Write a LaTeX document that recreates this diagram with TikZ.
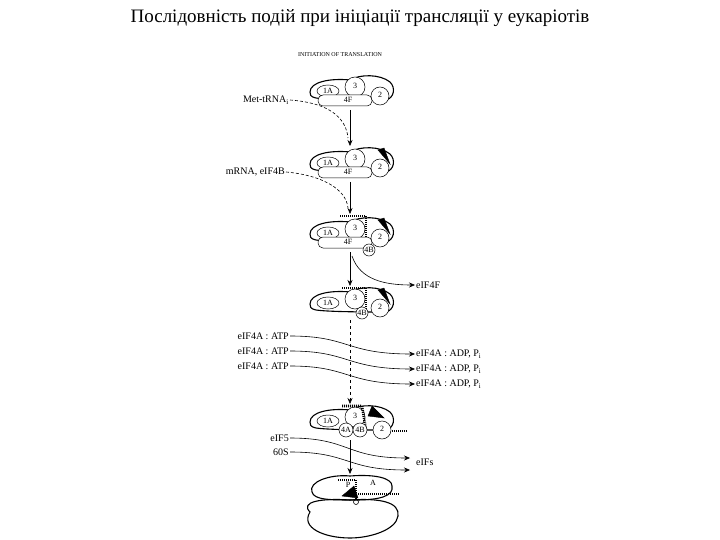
\documentclass[tikz,border=0pt]{standalone}
\usepackage{fontspec}
\setmainfont{Liberation Serif}
\usetikzlibrary{arrows.meta}
\begin{document}
\begin{tikzpicture}[x=1pt,y=-1pt,
  ln/.style={line width=0.6pt},
  body/.style={line width=1.1pt},
  sub/.style={draw,line width=0.5pt,fill=white},
  lab/.style={font=\fontsize{10}{11}\selectfont,inner sep=1pt},
  small/.style={font=\fontsize{8}{8}\selectfont,inner sep=0pt},
  arr/.style={ln,-{Stealth[length=6pt,width=5pt]}},
  mrna/.style={line width=2.6pt,dash pattern=on 1pt off 1pt},
  pics/cplx/.style={code={
    \draw[body,fill=white] (-40,2) .. controls (-40,-8) and (-20,-12) .. (0,-10)
      .. controls (10,-16) and (30,-16) .. (40,-8) .. controls (46,-2) and (44,8) .. (36,10)
      .. controls (20,10) and (-20,10) .. (-34,8) .. controls (-40,7) and (-40,4) .. (-40,2) -- cycle;
    \draw[sub] (-22,1) ellipse (11 and 6);
    \node[small] at (-22,1) {1A};
    \draw[sub] (5,-3) circle (10);
    \node[small] at (5,-4) {3};
  }}]
\useasboundingbox (0,0) rectangle (720,540);
\node[font=\fontsize{19}{22}\selectfont] (title) at (360,18) {Послідовність подій при ініціації трансляції у еукаріотів};
\node[font=\fontsize{6}{7}\selectfont] (sub) at (340,55) {INITIATION OF TRANSLATION};

% complex 1
\pic at (350,90) {cplx};
\draw[sub,rounded corners=5] (318,95) rectangle (372,106); \node[small] at (348,100) {4F};
\draw[sub] (380,96) circle (9); \node[small] at (380,95) {2};
\coordinate (c1) at (350,110);
% complex 2
\pic at (350,162) {cplx};
\draw[black,fill=black] (378,150) -- (384,148) -- (390,164) -- cycle;
\draw[sub,rounded corners=5] (318,167) rectangle (372,178); \node[small] at (348,172) {4F};
\draw[sub] (380,168) circle (9); \node[small] at (380,167) {2};
\coordinate (c2t) at (350,146); \coordinate (c2) at (350,182);
% complex 3
\pic at (350,232) {cplx};
\draw[black,fill=black] (378,220) -- (384,218) -- (390,234) -- cycle;
\draw[mrna] (340,216) -- (366,216) -- (366,244);
\draw[sub,rounded corners=5] (318,237) rectangle (372,248); \node[small] at (348,242) {4F};
\draw[sub] (380,238) circle (9); \node[small] at (380,237) {2};
\draw[sub] (369,250) circle (6); \node[small] at (369,250) {4B};
\coordinate (c3t) at (350,214); \coordinate (c3) at (350,252);
% complex 4
\pic at (350,302) {cplx};
\draw[black,fill=black] (378,290) -- (384,288) -- (390,304) -- cycle;
\draw[mrna] (342,288) -- (366,288) -- (366,312);
\draw[sub] (380,308) circle (9); \node[small] at (380,307) {2};
\draw[sub] (362,313) circle (6); \node[small] at (362,313) {4B};
\coordinate (c4t) at (350,286); \coordinate (c4) at (350,320);
% complex 5
\pic at (350,420) {cplx};
\draw[black,fill=black] (368,416) -- (372,406) -- (384,418) -- cycle;
\draw[mrna] (342,406) -- (362,406) -- (366,430);
\draw[mrna] (388,431) -- (408,431);
\draw[sub] (382,430) circle (9); \node[small] at (382,429) {2};
\draw[sub] (346,430) circle (7); \node[small] at (346,430) {4A};
\draw[sub] (360,430) circle (7); \node[small] at (360,430) {4B};
\coordinate (c5t) at (350,404); \coordinate (c5) at (350,440);
% ribosome
\draw[body] (312,492) .. controls (308,482) and (330,474) .. (350,476) .. controls (375,474) and (392,478) .. (392,486)
  .. controls (394,496) and (380,500) .. (355,500) .. controls (330,500) and (314,500) .. (312,492) -- cycle;
\draw[body] (310,512) .. controls (300,502) and (320,498) .. (350,500) .. controls (380,498) and (400,502) .. (398,516)
  .. controls (396,530) and (370,538) .. (350,538) .. controls (325,538) and (300,528) .. (310,512) -- cycle;
\draw[mrna] (338,480) -- (356,480) -- (356,500);
\draw[mrna] (358,494) -- (400,494);
\draw[black,fill=black] (342,496) -- (354,486) -- (358,498) -- cycle;
\draw[ln] (356,502) circle (2.5);
\node[small] at (348,485) {P}; \node[small] at (373,483) {A};
\coordinate (rt) at (350,474);

% vertical arrows
\draw[arr] (c1) -- (c2t);
\draw[arr] (c2) -- (c3t);
\draw[arr] (c3) -- (c4t);
\draw[arr,dashed] (c4) -- (c5t);
\draw[arr] (c5) -- (rt);

% side arrows
\node[lab,anchor=east] (met) at (290,100) {Met-tRNA$_\mathrm{i}$};
\draw[ln,densely dashed] (met.east) .. controls (330,103) and (346,118) .. (348,138);
\node[lab,anchor=east] (mr) at (286,172) {mRNA, eIF4B};
\draw[ln,densely dashed] (mr.east) .. controls (320,175) and (346,188) .. (348,208);
\node[lab,anchor=west] (f4) at (415,285) {eIF4F};
\draw[arr] (352,256) .. controls (360,280) and (385,285) .. (f4.west);
\foreach \i/\y in {1/336,2/351,3/366}{
  \node[lab,anchor=east] (a\i) at (290,\y) {eIF4A : ATP};
  \node[lab,anchor=west] (d\i) at (415,\y+18) {eIF4A : ADP, P$_\mathrm{i}$};
  \draw[arr] (a\i.east) .. controls (350,\y) and (345,\y+18) .. (d\i.west);
}
\node[lab,anchor=east] (e5) at (290,438) {eIF5};
\node[lab,anchor=east] (s60) at (290,452) {60S};
\node[lab,anchor=west] (efs) at (415,462) {eIFs};
\draw[arr] (e5.east) .. controls (350,438) and (345,458) .. (410,458);
\draw[arr] (s60.east) .. controls (350,452) and (345,470) .. (410,470);
\end{tikzpicture}
\end{document}
